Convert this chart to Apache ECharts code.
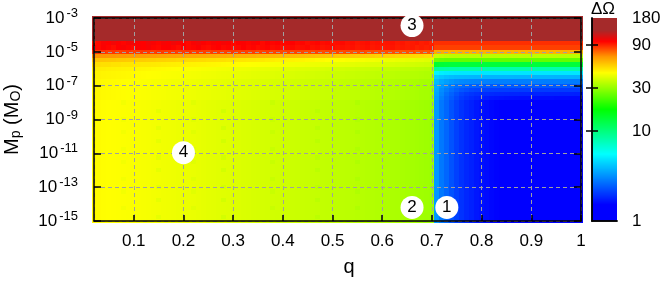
<!DOCTYPE html>
<html><head><meta charset="utf-8">
<script src="https://cdn.jsdelivr.net/npm/echarts@6/dist/echarts.min.js"></script>
<style>html,body{margin:0;padding:0;background:#fff}#c{width:664px;height:288px}</style>
</head><body><div id="c"></div>
<script>
// ---- data ----
const qValues = [0.02,0.03,0.04,0.05,0.06,0.07,0.08,0.09,0.10,0.11,0.12,0.13,0.14,0.15,0.16,0.17,0.18,0.19,0.20,0.21,
0.22,0.23,0.24,0.25,0.26,0.27,0.28,0.29,0.30,0.31,0.32,0.33,0.34,0.35,0.36,0.37,0.38,0.39,0.40,0.41,
0.42,0.43,0.44,0.45,0.46,0.47,0.48,0.49,0.50,0.51,0.52,0.53,0.54,0.55,0.56,0.57,0.58,0.59,0.60,0.61,
0.62,0.63,0.64,0.65,0.66,0.67,0.68,0.69,0.70,0.71,0.72,0.73,0.74,0.75,0.76,0.77,0.78,0.79,0.80,0.81,
0.82,0.83,0.84,0.85,0.86,0.87,0.88,0.89,0.90,0.91,0.92,0.93,0.94,0.95,0.96,0.97,0.98,0.99,1.00];
const logMpValues = [-15,-14.75,-14.5,-14.25,-14,-13.75,-13.5,-13.25,-13,-12.75,-12.5,-12.25,-12,-11.75,-11.5,-11.25,
-11,-10.75,-10.5,-10.25,-10,-9.75,-9.5,-9.25,-9,-8.75,-8.5,-8.25,-8,-7.75,-7.5,-7.25,-7,-6.75,-6.5,-6.25,
-6,-5.75,-5.5,-5.25,-5,-4.75,-4.5,-4.25,-4,-3.75,-3.5,-3.25,-3];

// Delta Omega, q = 0.02 .. 0.70 (left block)
const leftLowA = [45.5,44.8,44.5,44.3,44.1,44,43.8,43.6,43.4,43.2,
43,42.8,42.6,42.3,42.1,41.9,41.7,41.5,41.3,41.1,
40.9,40.6,40.4,40.1,39.9,39.7,39.5,39.3,39.1,38.9,
38.7,38.5,38.3,38.1,37.9,37.7,37.5,37.3,37.1,36.9,
36.7,36.5,36.3,36.1,35.9,35.7,35.5,35.3,35.1,34.9,
34.7,34.5,34.3,34.1,33.9,33.7,33.5,33.3,33.1,32.9,
32.7,32.5,32.2,32,31.7,31.5,31.2,31,30.8];
const leftLowB = [45.5,44.8,44.5,44.3,44.1,44,43.8,43.6,43.4,43.2,
43,42.8,42.6,40.5,42.1,41.9,41.7,41.5,41.3,41.1,
40.9,40.6,40.4,40.1,39.9,39.7,37.8,39.3,39.1,38.9,
38.7,38.5,38.3,38.1,37.9,37.7,37.5,37.3,37.1,36.9,
36.7,36.5,36.3,36.1,35.9,34.6,35.5,35.3,35.1,34.9,
34.7,34.5,34.3,34.1,33.9,33.7,33.5,33.3,33.1,32.9,
32.7,32.5,32.2,32,31.7,31.5,31.2,31,30.8];
const leftLowC = [45.2,44.8,44.5,44.3,44.1,44,42.5,43.6,43.4,43.2,
43,42.8,42.6,42.3,42.1,41.9,41.7,41.5,41.3,41.1,
39.6,40.6,40.4,40.1,39.9,39.7,39.5,39.3,39.1,38.9,
38.7,38.5,38.3,38.1,37.9,37.7,36.2,37.3,37.1,36.9,
36.7,36.5,36.3,36.1,35.9,35.7,35.5,35.3,35.1,34.9,
34.7,34.5,34.3,33,33.9,33.7,33.5,33.3,33.1,32.9,
32.7,32.5,32.2,32,31.7,31.5,31.2,31,30.8];
const leftM7 = [46,45.5,45.2,45,44.8,44.6,44.4,44.2,44,43.8,
43.6,43.4,43.2,43,42.8,42.6,42.4,42.2,42,41.8,
41.6,41.3,41.1,40.9,40.7,40.5,40.3,40.1,39.9,39.7,
39.5,39.3,39.1,38.9,38.7,38.5,38.3,38.1,37.9,37.7,
37.5,37.3,37.1,36.9,36.7,36.5,36.3,36.1,35.9,35.7,
35.5,35.3,35.1,34.9,34.7,34.5,34.3,34.1,33.9,33.7,
33.5,33.3,33,32.8,32.5,32.3,32,31.8,31.6];
const leftM625 = [46.8,46.4,46.1,45.9,45.7,45.5,45.3,45.1,44.9,44.7,
44.5,44.3,44.1,43.9,43.7,43.5,43.3,43.1,42.9,42.7,
42.5,42.3,42.1,41.9,41.7,41.5,41.3,41.1,40.9,40.7,
40.5,40.3,40.1,39.9,39.7,39.5,39.3,39.1,38.9,38.7,
38.5,38.3,38.1,37.9,37.7,37.5,37.3,37.1,36.9,36.7,
36.5,36.3,36.1,35.9,35.7,35.5,35.3,35.1,34.9,34.7,
34.5,34.3,34.1,33.9,33.7,33.5,33.3,33.1,32.9];
const leftM6 = [48,47.6,47.3,47,46.8,46.6,46.4,46.2,46,45.8,
45.6,45.4,45.2,45,44.8,44.6,44.4,44.2,44,43.8,
43.6,43.4,43.2,43,42.8,42.6,42.4,42.2,42,41.8,
41.6,41.4,41.2,41,40.8,40.6,40.4,40.2,40,39.8,
39.6,39.4,39.2,39,38.8,38.6,38.4,38.2,38,37.8,
37.6,37.4,37.2,37,36.8,36.6,36.4,36.2,36,35.8,
35.6,35.4,35.2,35,34.8,34.6,34.4,34.2,34];
const leftM575 = [51,50.5,50,50,49.5,49.5,49,49,48.8,48.6,
48.4,48.2,48,47.8,47.6,47.4,47.2,47,46.8,46.6,
46.4,46.2,46,45.8,45.6,45.4,45.2,45,44.8,44.6,
44.4,44.2,44,43.8,43.6,43.4,43.2,43,42.8,42.6,
42.4,42.2,42,41.8,41.6,41.4,41.2,41,40.8,40.6,
40.4,40.2,40,39.8,39.6,39.4,39.2,39,38.8,38.6,
38.4,38.2,38,37.8,37.6,37.4,37.2,37,36.8];
const leftM55 = [57,56,56,55.5,55.5,55,55,54.5,54.5,54,
54,53.5,53.5,53,53,52.5,52.5,52,52,51.5,
51.5,51,51,50.5,50.5,50,50,49.5,49.5,49,
49,48.5,48.5,48,48,47.5,47.5,47,47,46.5,
46.5,46,46,45.5,45.5,45,45,44.5,44.5,44,
44,43.5,43.5,43,43,42.5,42.5,42,42,41.5,
41.5,41,41,40.5,40.5,40,40,39.5,39.5];
const leftM525 = [68,67,67,66.5,66.5,66,66,65.5,65.5,65,
65,64.5,64.5,64,64,63.5,63.5,63,63,62.5,
62.5,62,62,61.5,61.5,61,61,60.5,60.5,60,
60,59.5,59.5,59,59,58.5,58.5,58,58,57.5,
57.5,57,57,56.5,56.5,56,56,55.5,55.5,55,
55,54.5,54.5,54,54,53.5,53.5,53,53,52.5,
52.5,52,52,51.5,51.5,51,51,50.5,50.5];
const leftM5 = [88,86,87,85,86,84,85,86,84,85,
86,85,84,86,85,84,85,84,85,86,
84,85,84,83,85,84,83,84,85,83,
84,83,84,82,83,84,82,83,82,83,
82,83,82,81,82,83,81,82,81,82,
81,82,80,81,82,80,81,80,81,80,
81,80,79,80,81,79,80,79,80];
const leftM475 = [99,97,100,98,96,99,101,98,97,100,
99,101,98,97,99,100,98,96,99,97,
98,100,97,96,98,99,97,98,96,97,
99,97,98,96,97,98,96,97,95,96,
97,95,96,97,95,96,94,95,96,94,
95,94,95,93,94,95,93,94,92,93,
94,92,93,92,93,91,92,91,92];
const leftM45 = [94,97,101,99,103,100,98,102,104,100,
99,103,101,98,102,100,104,101,99,97,
101,103,100,98,101,99,102,100,97,99,
100,98,101,99,97,100,98,99,97,98,
99,97,98,96,97,98,96,97,95,96,
97,95,96,94,95,96,94,95,93,94,
95,93,94,92,93,94,92,93,91];
const leftSat = [180,180,180,180,180,180,180,180,180,180,180,180,180,180,180,180,180,180,180,180,
180,180,180,180,180,180,180,180,180,180,180,180,180,180,180,180,180,180,180,180,
180,180,180,180,180,180,180,180,180,180,180,180,180,180,180,180,180,180,180,180,
180,180,180,180,180,180,180,180,180];

// Delta Omega, q = 0.71 .. 1.00 (right block)
const rightLow = [3.3,2.8,2.55,2.3,2.1,1.95,1.85,1.78,1.7,1.65,
1.6,1.56,1.53,1.5,1.48,1.46,1.44,1.42,1.4,1.38,
1.36,1.34,1.32,1.3,1.28,1.26,1.24,1.22,1.2,1.18];
const rightM775 = [3.4,2.9,2.6,2.4,2.2,2.05,1.95,1.88,1.82,1.77,
1.73,1.7,1.68,1.66,1.65,1.64,1.63,1.62,1.62,1.61,
1.61,1.6,1.6,1.6,1.59,1.59,1.59,1.58,1.58,1.58];
const rightM75 = [3.5,3.0,2.7,2.5,2.3,2.15,2.05,1.98,1.93,1.9,
1.88,1.86,1.85,1.84,1.83,1.82,1.82,1.81,1.81,1.8,
1.8,1.8,1.79,1.79,1.79,1.78,1.78,1.78,1.77,1.77];
const rightM725 = [3.6,3.1,2.85,2.65,2.48,2.36,2.27,2.2,2.16,2.13,
2.11,2.1,2.09,2.08,2.08,2.07,2.07,2.06,2.06,2.06,
2.05,2.05,2.05,2.05,2.04,2.04,2.04,2.04,2.03,2.03];
const rightM7 = [3.7,3.3,3.05,2.85,2.7,2.6,2.53,2.48,2.45,2.43,
2.42,2.41,2.4,2.4,2.4,2.39,2.39,2.39,2.38,2.38,
2.38,2.38,2.37,2.37,2.37,2.37,2.36,2.36,2.36,2.36];
const rightM675 = [3.9,3.6,3.4,3.25,3.12,3.05,3.0,2.97,2.95,2.93,
2.92,2.91,2.9,2.9,2.9,2.89,2.89,2.89,2.88,2.88,
2.88,2.88,2.87,2.87,2.87,2.87,2.86,2.86,2.86,2.86];
const rightM65 = [4.4,4.2,4.05,3.95,3.9,3.87,3.85,3.83,3.82,3.81,
3.8,3.8,3.8,3.79,3.79,3.79,3.78,3.78,3.78,3.78,
3.77,3.77,3.77,3.77,3.76,3.76,3.76,3.76,3.75,3.75];
const rightM625 = [5.3,5.1,5.0,4.95,4.92,4.9,4.9,4.9,4.9,4.9,
4.9,4.9,4.9,4.9,4.9,4.9,4.9,4.9,4.9,4.9,
4.9,4.9,4.9,4.9,4.9,4.9,4.9,4.9,4.9,4.9];
const rightM6 = [8.6,8.4,8.3,8.2,8.2,8.1,8.1,8.1,8.1,8.1,
8.1,8.1,8.1,8.1,8.1,8.1,8.1,8.1,8.1,8.1,
8.1,8.1,8.1,8.1,8.1,8.1,8.1,8.1,8.1,8.1];
const rightM575 = [14,13.6,13.4,13.3,13.3,13.3,13.3,13.3,13.3,13.3,
13.3,13.3,13.3,13.3,13.3,13.3,13.3,13.3,13.3,13.3,
13.3,13.3,13.3,13.3,13.3,13.3,13.3,13.3,13.3,13.3];
const rightM55 = [26,25.5,25,25,25,25,25,25,25,25,
25,25,25,25,25,25,25,25,25,25,
25,25,25,25,25,25,25,25,25,25];
const rightM525 = [36,35,34.5,34,34,34,34,34,34,34,
34,34,34,34,34,34,34,34,34,34,
34,34,34,34,34,34,34,34,34,34];
const rightM5 = [62,61,60,60,60,60,60,60,60,60,
60,60,60,60,60,60,60,60,60,60,
60,60,60,60,60,60,60,60,60,60];
const rightM475 = [84,84,84,84,84,84,84,84,84,84,
84,84,84,84,84,84,84,84,84,84,
84,84,84,84,84,84,84,84,84,84];
const rightM45 = [88,88,88,88,88,88,88,88,88,88,
88,88,88,88,88,88,88,88,88,88,
88,88,88,88,88,88,88,88,88,88];
const rightSat = [180,180,180,180,180,180,180,180,180,180,
180,180,180,180,180,180,180,180,180,180,
180,180,180,180,180,180,180,180,180,180];

// one entry per logMp row (bottom to top): [left block, right block]
const dOmegaRows = [
[leftLowA,rightLow],[leftLowB,rightLow],[leftLowA,rightLow],[leftLowC,rightLow],[leftLowA,rightLow],
[leftLowB,rightLow],[leftLowA,rightLow],[leftLowC,rightLow],[leftLowB,rightLow],[leftLowA,rightLow],
[leftLowC,rightLow],[leftLowA,rightLow],[leftLowB,rightLow],[leftLowA,rightLow],[leftLowC,rightLow],
[leftLowB,rightLow],[leftLowA,rightLow],[leftLowC,rightLow],[leftLowA,rightLow],[leftLowB,rightLow],
[leftLowA,rightLow],[leftLowC,rightLow],[leftLowB,rightLow],[leftLowA,rightLow],[leftLowC,rightLow],
[leftLowA,rightLow],[leftLowB,rightLow],[leftLowA,rightLow],[leftLowC,rightLow],
[leftM7,rightM775],[leftM7,rightM75],[leftM7,rightM725],[leftM7,rightM7],[leftM7,rightM675],
[leftM625,rightM65],[leftM625,rightM625],[leftM6,rightM6],[leftM575,rightM575],[leftM55,rightM55],
[leftM525,rightM525],[leftM5,rightM5],[leftM475,rightM475],[leftM45,rightM45],
[leftSat,rightSat],[leftSat,rightSat],[leftSat,rightSat],[leftSat,rightSat],[leftSat,rightSat],[leftSat,rightSat]
];

const markerQ = [0.73, 0.66, 0.66, 0.20];
const markerLogMp = [-14.2, -14.2, -3.45, -10.96];
const markerLabels = ['1', '2', '3', '4'];

const cbTickValues = [1, 10, 30, 90, 180];
const cbMax = 180;

// ---- styling ----
const FONT = 'Liberation Sans, Arial, Helvetica, sans-serif';
const FS = 17;
const NFS = 20;
const cmapStops = [[0,[0,0,255]],[0.08,[0,0,255]],[0.33,[0,255,255]],[0.55,[0,255,0]],
  [0.73,[255,255,0]],[0.81,[255,150,0]],[0.885,[255,0,0]],[0.94,[165,42,42]],[1,[165,42,42]]];
function cmap(f){
  for (let i=1;i<cmapStops.length;i++){
    const [f1,c1]=cmapStops[i], [f0,c0]=cmapStops[i-1];
    if (f<=f1){ const t=(f-f0)/(f1-f0||1);
      return 'rgb('+c0.map((v,k)=>Math.round(v+(c1[k]-v)*t)).join(',')+')'; }
  }
  return 'rgb(165,42,42)';
}
const palette = [];
for (let i=0;i<=200;i++) palette.push(cmap(i/200));
const vMax = Math.log10(cbMax);

const heatData = [];
dOmegaRows.forEach((parts, i) => {
  const vals = parts[0].concat(parts[1]);
  vals.forEach((v, j) => {
    heatData.push([qValues[j], logMpValues[i], Math.min(Math.log10(v), vMax)]);
  });
});
const cbData = [];
const NSEG = 203;
for (let k=0;k<NSEG;k++){ cbData.push([k*vMax/NSEG, (k+1)*vMax/NSEG, (k+0.5)*vMax/NSEG]); }

const chart = echarts.init(document.getElementById('c'), null, {renderer:'canvas'});
const black = '#000';
chart.setOption({
  animation: false,
  backgroundColor: '#fff',
  title: {text: 'ΔΩ', left: 591, top: 1, padding: 0, itemGap: 0,
    textStyle: {fontSize: FS, fontWeight: 'normal', color: black, fontFamily: FONT}},
  grid: [
    {left: 94, top: 18, width: 487, height: 203, containLabel: false, outerBoundsMode: 'none'},
    {left: 592, top: 18, width: 25, height: 203, containLabel: false, outerBoundsMode: 'none'}
  ],
  visualMap: [{type: 'continuous', show: false, min: 0, max: vMax, dimension: 2, seriesIndex: [0, 2],
    inRange: {color: palette}}],
  xAxis: [
    {gridIndex: 0, type: 'value', min: 0.02, max: 1, splitNumber: 10, position: 'bottom', z: 5,
     axisLine: {lineStyle: {color: black, width: 1.5}},
     axisTick: {inside: true, length: 6, lineStyle: {color: black, width: 1.5}},
     axisLabel: {showMinLabel: false, fontSize: FS, color: black, margin: 12, fontFamily: FONT},
     splitLine: {show: true, lineStyle: {color: '#a0a0a0', type: [4, 3], width: 1}},
     name: 'q', nameLocation: 'middle', nameGap: 36,
     nameTextStyle: {fontSize: NFS, color: black, fontFamily: FONT, padding: [0, 0, 0, 23]}},
    {gridIndex: 0, type: 'value', min: 0.02, max: 1, position: 'top', z: 5,
     axisLine: {lineStyle: {color: black, width: 1.5}}, axisTick: {show: false},
     axisLabel: {show: false}, splitLine: {show: false}},
    {gridIndex: 1, type: 'value', min: 0, max: 1, position: 'bottom', z: 5,
     axisLine: {lineStyle: {color: black, width: 1.5}}, axisTick: {show: false},
     axisLabel: {show: false}, splitLine: {show: false}},
    {gridIndex: 1, type: 'value', min: 0, max: 1, position: 'top', z: 5,
     axisLine: {lineStyle: {color: black, width: 1.5}}, axisTick: {show: false},
     axisLabel: {show: false}, splitLine: {show: false}}
  ],
  yAxis: [
    {gridIndex: 0, type: 'value', min: -15, max: -3, interval: 2, position: 'left', z: 5,
     axisLine: {lineStyle: {color: black, width: 1.5}},
     axisTick: {inside: true, length: 7, lineStyle: {color: black, width: 1.5}},
     axisLabel: {margin: 16, color: black, fontFamily: FONT,
       formatter: v => '{b|10}{s|' + v + '}',
       rich: {b: {fontSize: FS, lineHeight: 22, fontFamily: FONT, color: black, padding: [0, 2, 0, 0]},
              s: {fontSize: 13, lineHeight: 13, verticalAlign: 'top', fontFamily: FONT, color: black}}},
     splitLine: {show: true, lineStyle: {color: '#a0a0a0', type: [4, 3], width: 1}},
     name: '{m|M}{sub|p}{m| (M}{sub|O}{m|)}', nameLocation: 'middle', nameGap: 71, nameRotate: 90,
     nameTextStyle: {rich: {m: {fontSize: NFS, lineHeight: 22, fontFamily: FONT, color: black},
                            sub: {fontSize: 14, lineHeight: 14, verticalAlign: 'bottom', fontFamily: FONT, color: black}}}},
    {gridIndex: 0, type: 'value', min: -15, max: -3, interval: 2, position: 'right', z: 5,
     axisLine: {lineStyle: {color: black, width: 1.5}},
     axisTick: {inside: true, length: 7, lineStyle: {color: black, width: 1.5}},
     axisLabel: {show: false}, splitLine: {show: false}},
    {gridIndex: 1, type: 'value', min: 0, max: vMax, position: 'left', z: 5,
     axisLine: {lineStyle: {color: black, width: 1.5}},
     axisTick: {inside: true, length: 6, lineStyle: {color: black, width: 1.5},
       customValues: cbTickValues.slice(1, 4).map(Math.log10)},
     axisLabel: {show: false}, splitLine: {show: false}},
    {gridIndex: 1, type: 'value', min: 0, max: vMax, position: 'right', z: 5,
     axisLine: {lineStyle: {color: black, width: 1.5}},
     axisTick: {inside: true, length: 6, lineStyle: {color: black, width: 1.5},
       customValues: cbTickValues.slice(1, 4).map(Math.log10)},
     axisLabel: {margin: 15, fontSize: FS, color: black, fontFamily: FONT,
       customValues: cbTickValues.map(Math.log10),
       formatter: v => String(Math.round(Math.pow(10, v)))},
     splitLine: {show: false}}
  ],
  series: [
    {type: 'custom', xAxisIndex: 0, yAxisIndex: 0, data: heatData, progressive: 0, z: 1, clip: false,
     renderItem: (params, api) => {
       const q = api.value(0), L = api.value(1);
       const p0 = api.coord([q - 0.005, L + 0.125]);
       const p1 = api.coord([q + 0.005, L - 0.125]);
       const x0 = Math.round(p0[0]), x1 = Math.round(p1[0]);
       const y0 = Math.round(p0[1]), y1 = Math.round(p1[1]);
       return {type: 'rect', shape: {x: x0, y: y0, width: x1 - x0, height: y1 - y0},
               style: {fill: api.visual('color')}};
     }},
    {type: 'scatter', xAxisIndex: 0, yAxisIndex: 0, z: 10, symbol: 'circle', symbolSize: 23,
     itemStyle: {color: '#fff', opacity: 1},
     label: {show: true, position: 'inside', formatter: p => p.data[2], color: black, fontSize: FS, fontFamily: FONT},
     data: markerQ.map((q, i) => [q, markerLogMp[i], markerLabels[i]])},
    {type: 'custom', xAxisIndex: 2, yAxisIndex: 2, data: cbData, progressive: 0, z: 1,
     renderItem: (params, api) => {
       const p0 = api.coord([0, api.value(1)]);
       const p1 = api.coord([1, api.value(0)]);
       const y0 = Math.round(p0[1]), y1 = Math.round(p1[1]);
       return {type: 'rect', shape: {x: p0[0], y: y0, width: p1[0] - p0[0], height: y1 - y0},
               style: {fill: api.visual('color')}};
     }}
  ]
});
</script></body></html>
